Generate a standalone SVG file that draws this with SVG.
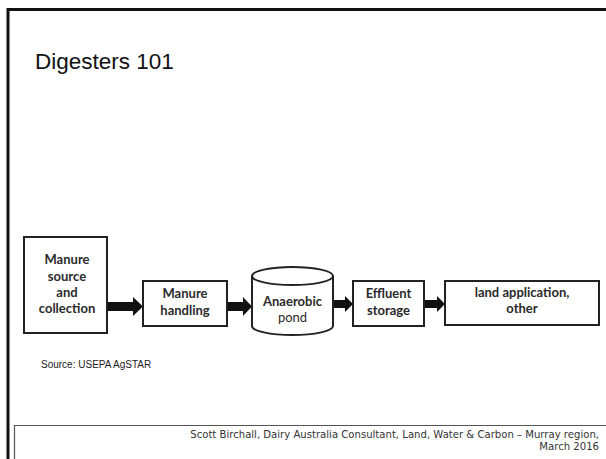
<svg xmlns="http://www.w3.org/2000/svg" width="606" height="459" viewBox="0 0 606 459">
<style>
.frame{fill:none;stroke:#111;stroke-width:3}
.foot{fill:none;stroke:#555;stroke-width:1.2}
.box{fill:#fff;stroke:#222;stroke-width:2}
.lbl{font-family:Lato,"Open Sans",sans-serif;font-weight:bold;font-size:13px;fill:#2a2a2a;text-anchor:middle}
.reg{font-family:Lato,"Open Sans",sans-serif;font-size:13px;fill:#2a2a2a;text-anchor:middle}
.arrow{fill:#111}
.title{font-family:"Liberation Sans",Arial,sans-serif;font-size:22.5px;fill:#111}
.src{font-family:"Liberation Sans",Arial,sans-serif;font-size:10px;fill:#222}
.ftxt{font-family:"DejaVu Sans",Verdana,sans-serif;font-size:10.1px;fill:#333;text-anchor:end}
</style>
<rect width="606" height="459" fill="#fff"/>
<path class="frame" d="M8 459 V9.5 H606"/>
<path class="foot" d="M14.5 459 V425.5 H606"/>
<text class="title" x="35" y="69">Digesters 101</text>
<g id="connectors">
<polygon class="arrow" points="107,302 133,302 133,297 143,306.5 133,316 133,311 107,311"/>
<polygon class="arrow" points="227,302 243,302 243,297 252,306.5 243,316 243,311 227,311"/>
<polygon class="arrow" points="333,300 345,300 345,296 353,304 345,312 345,308 333,308"/>
<polygon class="arrow" points="424,300 437,300 437,296 445,304 437,312 437,308 424,308"/>
</g>
<g id="node-source">
<rect class="box" x="24" y="237" width="83" height="96"/>
<text class="lbl" x="67" y="264">Manure</text>
<text class="lbl" x="67" y="281">source</text>
<text class="lbl" x="67" y="297">and</text>
<text class="lbl" x="67" y="313">collection</text>
</g>
<g id="node-handling">
<rect class="box" x="143" y="281" width="84" height="45"/>
<text class="lbl" x="185" y="298">Manure</text>
<text class="lbl" x="185" y="315">handling</text>
</g>
<g id="node-pond">
<path class="box" d="M252 276 V326 A40.5 9 0 0 0 333 326 V276 A40.5 9 0 0 0 252 276 A40.5 9 0 0 0 333 276"/>
<text class="lbl" x="292.5" y="306">Anaerobic</text>
<text class="reg" x="292.5" y="321.5">pond</text>
</g>
<g id="node-effluent">
<rect class="box" x="353" y="281" width="71" height="45"/>
<text class="lbl" x="388.5" y="298">Effluent</text>
<text class="lbl" x="388.5" y="315">storage</text>
</g>
<g id="node-land">
<rect class="box" x="445" y="281" width="154" height="44"/>
<text class="lbl" x="522" y="297">land application,</text>
<text class="lbl" x="522" y="313">other</text>
</g>
<text class="src" x="41" y="368">Source: USEPA AgSTAR</text>
<text class="ftxt" x="599" y="438">Scott Birchall, Dairy Australia Consultant, Land, Water &amp; Carbon – Murray region,</text>
<text class="ftxt" x="599" y="450">March 2016</text>
</svg>
